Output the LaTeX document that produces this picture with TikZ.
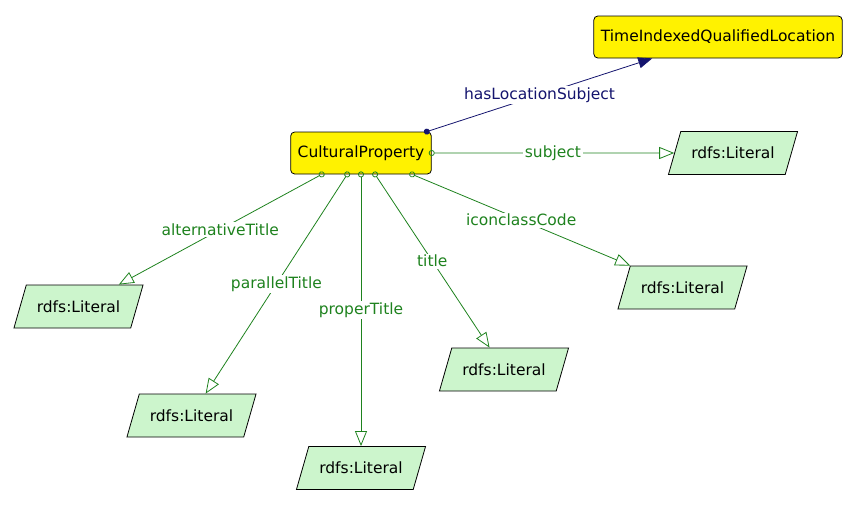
\documentclass[tikz,border=0pt]{standalone}
\usepackage{fontspec}
\setsansfont{DejaVu Sans}
\usetikzlibrary{arrows.meta,shapes.geometric}
\definecolor{propgreen}{RGB}{30,130,30}
\definecolor{objnavy}{RGB}{20,20,110}
\definecolor{litgreen}{RGB}{204,245,204}
\tikzset{
    class box/.style={draw=black,fill=yellow,rounded corners=4pt,minimum height=42pt,inner xsep=7pt,line width=0.8pt},
    literal box/.style={draw=black,fill=litgreen,trapezium,trapezium left angle=74,trapezium right angle=106,inner xsep=10.5pt,inner ysep=15.5pt,line width=0.8pt},
    data edge/.style={draw=propgreen,line width=0.8pt,{Circle[open,length=6pt,width=6pt]}-{Triangle[open,length=15pt,width=12pt]},shorten <=-3pt},
    object edge/.style={draw=objnavy,line width=0.8pt,{Circle[length=6pt,width=6pt]}-{Triangle[length=14pt,width=11pt]},shorten <=-3pt},
    data label/.style={midway,fill=white,inner sep=1.5pt,text=propgreen},
    object label/.style={midway,fill=white,inner sep=1.5pt,text=objnavy},
}
\tikzstyle{every node}=[font=\sffamily\fontsize{15.5}{18}\selectfont]

\begin{document}
\begin{tikzpicture}[x=1pt,y=-1pt]
    \useasboundingbox (0,0) rectangle (860,504);

    % classes
    \node[class box] (cp) at (361,153) {CulturalProperty};
    \node[class box] (tiql) at (718,37) {TimeIndexedQualifiedLocation};

    % literals
    \node[literal box] (litsubj) at (733,153) {rdfs:Literal};
    \node[literal box] (litalt) at (78.5,306.5) {rdfs:Literal};
    \node[literal box] (litpar) at (191.5,415.5) {rdfs:Literal};
    \node[literal box] (litprop) at (361,468) {rdfs:Literal};
    \node[literal box] (littitle) at (504,369.5) {rdfs:Literal};
    \node[literal box] (liticon) at (682.5,287.5) {rdfs:Literal};

    \draw[object edge] (cp) -- (tiql)
    node[object label] {hasLocationSubject};
    \draw[data edge] (cp) -- (litsubj)
    node[data label] {subject};
    \draw[data edge] (cp) -- (litalt)
    node[data label] {alternativeTitle};
    \draw[data edge] (cp) -- (litpar)
    node[data label] {parallelTitle};
    \draw[data edge] (cp) -- (litprop)
    node[data label] {properTitle};
    \draw[data edge] (cp) -- (littitle)
    node[data label] {title};
    \draw[data edge] (cp) -- (liticon)
    node[data label] {iconclassCode};
\end{tikzpicture}
\end{document}
